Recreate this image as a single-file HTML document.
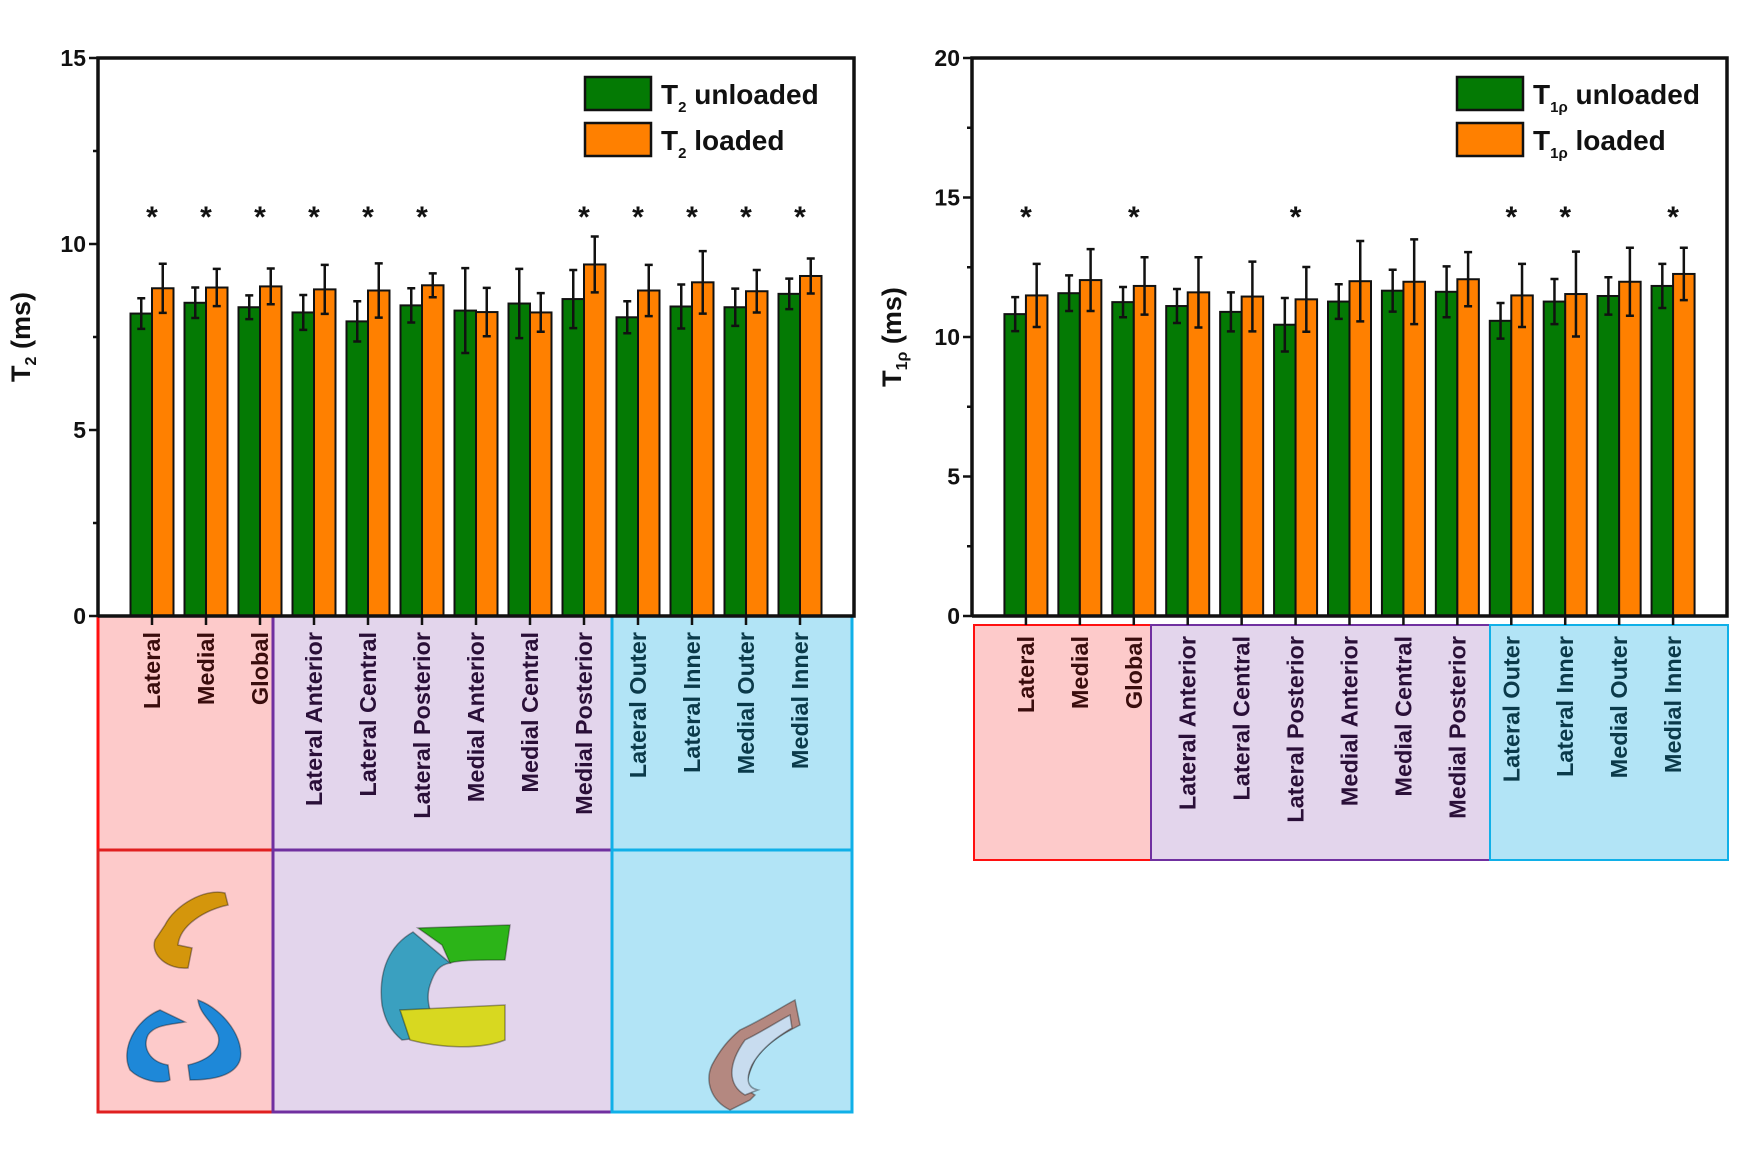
<!DOCTYPE html>
<html><head><meta charset="utf-8"><style>
body{margin:0;background:#fff;}
svg{display:block;font-family:"Liberation Sans",sans-serif;}
</style></head><body>
<svg id="c" width="1747" height="1166" viewBox="0 0 1747 1166" xmlns="http://www.w3.org/2000/svg"></svg>
<script>
const categories=["Lateral","Medial","Global","Lateral Anterior","Lateral Central","Lateral Posterior","Medial Anterior","Medial Central","Medial Posterior","Lateral Outer","Lateral Inner","Medial Outer","Medial Inner"];
const t2Unloaded=[8.13,8.42,8.30,8.16,7.92,8.35,8.21,8.40,8.52,8.03,8.32,8.30,8.66];
const t2UnloadedErr=[0.41,0.41,0.32,0.47,0.54,0.46,1.14,0.93,0.78,0.43,0.59,0.50,0.41];
const t2Loaded=[8.81,8.83,8.86,8.78,8.75,8.89,8.17,8.16,9.45,8.75,8.97,8.73,9.14];
const t2LoadedErr=[0.66,0.50,0.48,0.66,0.73,0.32,0.65,0.52,0.75,0.69,0.84,0.57,0.47];
const t2Sig=[1,1,1,1,1,1,0,0,1,1,1,1,1];
const t1Unloaded=[10.82,11.57,11.25,11.11,10.90,10.44,11.27,11.66,11.62,10.58,11.27,11.47,11.83];
const t1UnloadedErr=[0.61,0.64,0.54,0.61,0.70,0.96,0.62,0.75,0.91,0.64,0.81,0.67,0.79];
const t1Loaded=[11.49,12.04,11.83,11.60,11.45,11.35,12.00,11.98,12.07,11.49,11.54,11.98,12.26];
const t1LoadedErr=[1.13,1.11,1.03,1.26,1.25,1.16,1.44,1.52,0.97,1.13,1.52,1.22,0.94];
const t1Sig=[1,0,1,0,0,1,0,0,0,1,1,0,1];
const t2Ticks=[0,5,10,15];
const t1Ticks=[0,5,10,15,20];

const NS="http://www.w3.org/2000/svg";
const svg=document.getElementById('c');
function el(tag,attrs,parent,text){const e=document.createElementNS(NS,tag);for(const k in attrs)e.setAttribute(k,attrs[k]);if(text!==undefined)e.textContent=text;(parent||svg).appendChild(e);return e;}

function chart(o){
  const g=el('g',{});
  
  
  const x0=o.x0,x1=o.x1,yT=58,yB=616;
  const y=v=>yB-(v/o.max)*(yB-yT);
  const step=(x1-x0)/14;
  const cx=i=>x0+(i+1)*step;
  const bw=21.5;
  o.boxes.forEach(b=>{
    const r=el('rect',{x:b[0],y:b[2],width:b[1]-b[0],height:b[3]-b[2],fill:b[4],stroke:b[5],'stroke-width':b[6]||2},g);
    
    
  });
  categories.forEach((c,i)=>{
    [[o.u,o.ue,'#047a04',-bw],[o.l,o.le,'#ff8000',0]].forEach(s=>{
      const v=s[0][i],e=s[1][i];
      const r=el('rect',{x:cx(i)+s[3],y:y(v),width:bw,height:yB-y(v),fill:s[2],stroke:'#111','stroke-width':2},g);
      
      
      const ex=cx(i)+s[3]+bw/2;
      const eb=el('path',{d:`M${ex},${y(v-e)}V${y(v+e)}M${ex-4},${y(v-e)}H${ex+4}M${ex-4},${y(v+e)}H${ex+4}`,stroke:'#111','stroke-width':2.5,fill:'none'},g);
      
      
    });
    if(o.sig[i]){
      const t=el('text',{x:cx(i),y:227,'text-anchor':'middle','font-size':30,'font-weight':'bold',fill:'#111'},g,'*');
      
      
    }
    const tk=el('line',{x1:cx(i),x2:cx(i),y1:yB,y2:yB+9,stroke:'#111','stroke-width':2.5},g);
    
    
    const lb=el('text',{transform:`translate(${cx(i)+8},${o.labelTop}) rotate(-90)`,'text-anchor':'end','font-size':23.5,'font-weight':'bold',fill:o.labelColor(i)},g,c);
    
    
  });
  const ax=el('path',{d:`M${x0},${yB}V${yT}H${x1}V${yB}H${x0}`,fill:'none',stroke:'#111','stroke-width':3.5},g);
  
  
  o.ticks.forEach(t=>{
    el('line',{x1:x0-9,x2:x0,y1:y(t),y2:y(t),stroke:'#111','stroke-width':2.5},g);
    const tl=el('text',{x:x0-12,y:y(t)+8,'text-anchor':'end','font-size':23,'font-weight':'bold',fill:'#111'},g,String(t));
    
    
    if(t<o.max) el('line',{x1:x0-5,x2:x0,y1:y(t+o.ticks[1]/2),y2:y(t+o.ticks[1]/2),stroke:'#111','stroke-width':2.5},g);
  });
  const yt=el('text',{transform:`translate(${o.titleX},${yT+(yB-yT)/2}) rotate(-90)`,'text-anchor':'middle','font-size':27,'font-weight':'bold',fill:'#111'},g);
  
  
  el('tspan',{},yt,'T');
  el('tspan',{'font-size':16,dy:6},yt,o.sub);
  el('tspan',{dy:-6},yt,' (ms)');
  [['#047a04','unloaded',77],['#ff8000','loaded',123]].forEach(L=>{
    const r=el('rect',{x:o.legX,y:L[2],width:66,height:33,fill:L[0],stroke:'#111','stroke-width':2.5},g);
    
    
    const t=el('text',{x:o.legX+76,y:L[2]+27,'font-size':28,'font-weight':'bold',fill:'#111'},g);
    
    
    el('tspan',{},t,'T');
    el('tspan',{'font-size':15,dy:8},t,o.sub);
    el('tspan',{dy:-8},t,' '+L[1]);
  });
}
const lc=i=>i<3?'#3a0d0d':(i<9?'#2a0f38':'#0b3a4a');
chart({name:'t2-chart',x0:98,x1:854,max:15,ticks:t2Ticks,u:t2Unloaded,ue:t2UnloadedErr,l:t2Loaded,le:t2LoadedErr,sig:t2Sig,sub:'2',titleX:30,legX:585,labelTop:632,labelColor:lc,
 boxes:[[98,273,616,850,'#fdcaca','#ff1010',3],[273,612,616,850,'#e3d5ec','#7030a0',3],[612,852,616,850,'#b2e4f6','#10b0e8',3],
        [98,273,850,1112,'#fdcaca','#e02020',3],[273,612,850,1112,'#e3d5ec','#7030a0',3],[612,852,850,1112,'#b2e4f6','#10b0e8',3]]});
chart({name:'t1rho-chart',x0:972,x1:1727,max:20,ticks:t1Ticks,u:t1Unloaded,ue:t1UnloadedErr,l:t1Loaded,le:t1LoadedErr,sig:t1Sig,sub:'1ρ',titleX:901,legX:1457,labelTop:636,labelColor:lc,
 boxes:[[974,1151,625,860,'#fdcaca','#ff1010',2],[1151,1490,625,860,'#e3d5ec','#7030a0',2],[1490,1728,625,860,'#b2e4f6','#10b0e8',2]]});

const ill=el('g',{});


const shapes=[
 ['M165,925 C175,905 205,888 225,893 L228,905 C205,910 180,925 178,945 L192,948 L188,968 C168,970 150,955 155,940 Z','#d4960c'],
 ['M160,1010 C135,1020 120,1050 130,1070 C140,1080 160,1085 170,1080 L168,1065 C150,1062 142,1048 148,1035 C155,1025 168,1025 185,1022 Z','#1e88d8'],
 ['M198,1000 C225,1010 245,1040 240,1060 C235,1075 215,1080 190,1080 L188,1065 C210,1060 222,1048 218,1035 C213,1022 200,1015 198,1000 Z','#1e88d8'],
 ['M418,928 L510,925 L505,960 C480,960 460,960 450,963 L442,945 Z','#2cb418'],
 ['M413,932 C390,945 378,970 382,1005 C385,1020 390,1030 402,1040 L445,1035 C430,1020 425,1000 430,985 C435,970 440,965 450,963 Z','#3aa0c0'],
 ['M400,1010 L505,1005 L505,1040 C480,1050 440,1048 410,1040 Z','#d8d820'],
 ['M740,1030 C762,1020 785,1005 795,1000 L800,1025 C780,1035 765,1045 755,1060 C745,1080 745,1090 755,1095 L750,1100 L730,1110 C710,1100 705,1080 712,1065 C720,1050 728,1040 740,1030 Z','#b48880'],
 ['M745,1040 C765,1030 780,1020 790,1015 L792,1028 C775,1038 760,1050 752,1065 C745,1080 748,1088 758,1090 L745,1095 C728,1085 727,1065 745,1040 Z','#c8dcef']
];
shapes.forEach(s=>{
  const p=el('path',{d:s[0],fill:s[1],stroke:'rgba(0,0,0,0.35)','stroke-width':1.5},ill);
  
  
});
</script>
</body></html>
